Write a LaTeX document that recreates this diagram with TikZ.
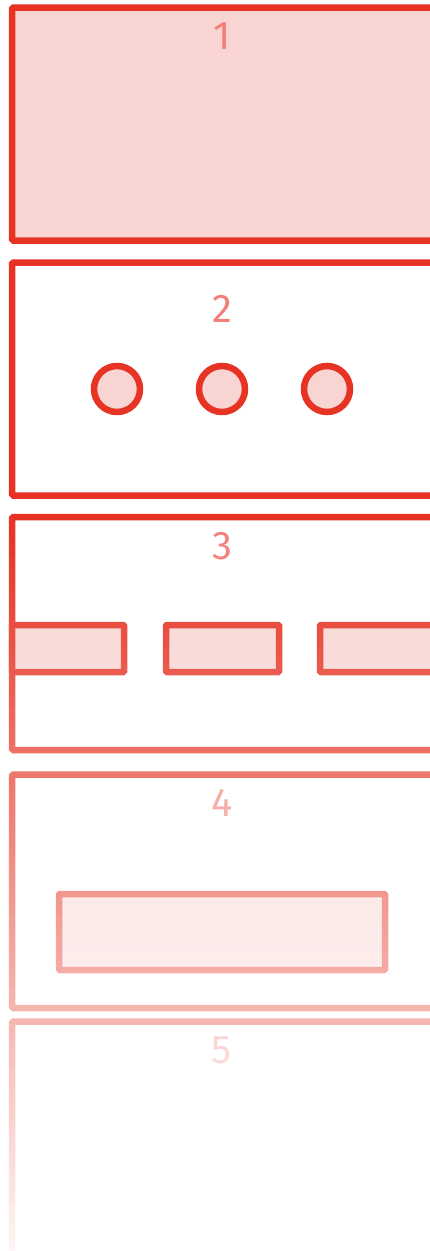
\documentclass[tikz,border=0pt]{standalone}
\usepackage{fontspec}
\usepackage{tikz}
\newfontfamily\thinfont{Fira Sans}
\definecolor{panelred}{HTML}{E63324}
\definecolor{panelfill}{HTML}{F8D5D2}
\definecolor{numred}{HTML}{F28078}

\begin{document}
\begin{tikzpicture}[x=1pt,y=-1pt,
  panel/.style={draw=panelred,line width=6.5pt,rounded corners=1.5pt},
  part/.style={draw=panelred,fill=panelfill,line width=6.5pt,rounded corners=1pt},
  num/.style={font=\thinfont\fontsize{40}{40}\selectfont,text=numred,inner sep=0pt}]
  \useasboundingbox (0,0) rectangle (430,1251);
  \clip (0,0) rectangle (430,1251);

  % --- Panel 1: filled ---
  \draw[panel,fill=panelfill] (12,7.5) rectangle (445,240.5);
  \node[num] (n1) at (222,36) {1};

  % --- Panel 2: three dots ---
  \draw[panel] (12,262.5) rectangle (445,495.5);
  \node[num] (n2) at (222,308.5) {2};
  \foreach \x in {117,222,327}
    \draw[part] (\x,389) circle (23);

  % --- Panel 3: three bars ---
  \draw[panel] (12,517) rectangle (445,750);
  \node[num] (n3) at (222,546.5) {3};
  \foreach \xa/\xb in {12/124,166/279,320/450}
    \draw[part] (\xa,625) rectangle (\xb,672);

  % --- Panel 4: one wide bar ---
  \draw[panel] (12,774.5) rectangle (445,1008);
  \node[num] (n4) at (222,803) {4};
  \draw[part] (59,894) rectangle (385,970);

  % --- Panel 5: empty ---
  \draw[panel] (12,1021.5) rectangle (445,1254.5);
  \node[num] (n5) at (222,1050.5) {5};

  % --- Fade to white towards the bottom, in thin strips ---
  \foreach \i in {0,...,84}
    \fill[white,fill opacity={(\i+0.5)/85}] (-5,520+9*\i) rectangle (450,529+9*\i);
\end{tikzpicture}
\end{document}
